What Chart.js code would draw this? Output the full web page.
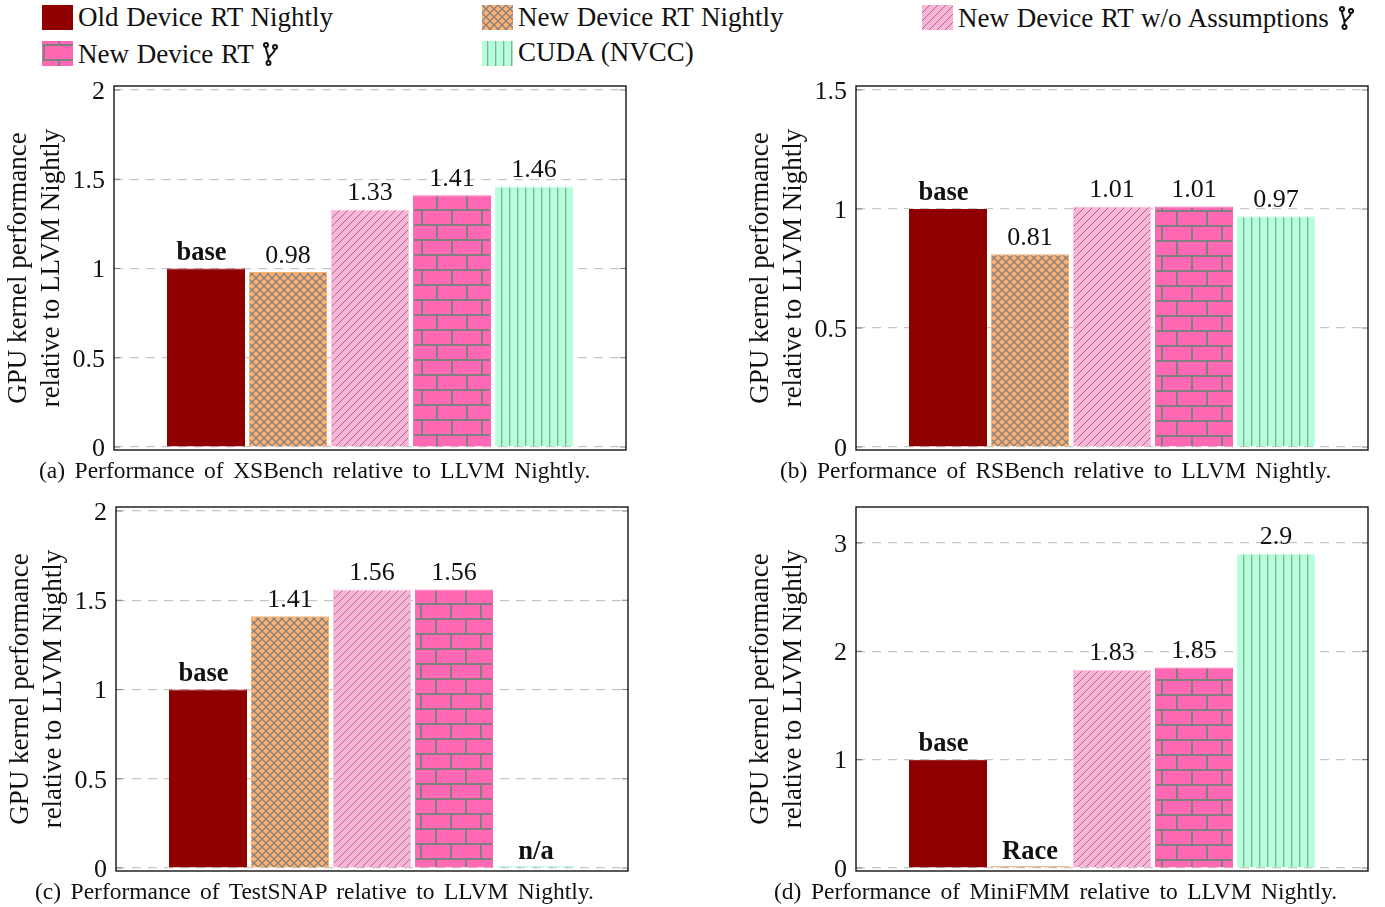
<!DOCTYPE html>
<html><head><meta charset="utf-8">
<style>
html,body{margin:0;padding:0;background:#fff;width:1385px;height:907px;overflow:hidden}
canvas.chart{position:absolute}
.t{position:absolute;font-family:"Liberation Serif",serif;color:#111;white-space:nowrap;line-height:30px}
.leg{font-size:27px;word-spacing:1px}
.cap{font-size:23.5px;word-spacing:3.6px}
.sw{position:absolute;width:31px;height:25px}
.fork{display:inline-block;vertical-align:-3px;margin-left:2px}
</style>
<script src="https://cdn.jsdelivr.net/npm/chart.js@4"></script>
</head><body>
<div id="page"></div>
<script>
// ---- data ----
const benchmarks = ['XSBench','RSBench','TestSNAP','MiniFMM'];
const seriesNames = ['Old Device RT Nightly','New Device RT Nightly','New Device RT w/o Assumptions','New Device RT','CUDA (NVCC)'];
const oldRT    = [1, 1, 1, 1];
const newRT    = [0.98, 0.81, 1.41, 0.01];
const noAssume = [1.33, 1.01, 1.56, 1.83];
const newBranch= [1.41, 1.01, 1.56, 1.85];
const cuda     = [1.46, 0.97, 0.01, 2.9];
const oldLabels    = ['base','base','base','base'];
const newLabels    = ['0.98','0.81','1.41','Race'];
const noAssumeLabels = ['1.33','1.01','1.56','1.83'];
const branchLabels = ['1.41','1.01','1.56','1.85'];
const cudaLabels   = ['1.46','0.97','n/a','2.9'];
const tickSetA = [0,0.5,1,1.5,2];
const tickSetB = [0,0.5,1,1.5];
const tickSetD = [0,1,2,3];
const yTicks = [tickSetA, tickSetB, tickSetA, tickSetD];
const yMin = [-0.0168,-0.0126,-0.0168,-0.0277];
const yMax = [2.0224,1.5168,2.0224,3.332];
const axisTitle = ['GPU kernel performance','relative to LLVM Nightly'];

// ---- layout ----
const panels = [
 {left:0,  top:70, brick:[436,195]},
 {left:742,top:70, brick:[1176,211]},
 {left:2,  top:491,brick:[435,589]},
 {left:742,top:491,brick:[1176,785]}
];
const captions = [
 ['(a) Performance of XSBench relative to LLVM Nightly.',39,454.5],
 ['(b) Performance of RSBench relative to LLVM Nightly.',780,454.5],
 ['(c) Performance of TestSNAP relative to LLVM Nightly.',35,875.5],
 ['(d) Performance of MiniFMM relative to LLVM Nightly.',774,875.5]
];
const GRAY='#808080';
const colors={red:'#8f0000',orange:'#ffb172',pink:'#ffb3d9',hot:'#ff69b4',aqua:'#b3ffda'};

function tile(w,h,bg,draw){
  const c=document.createElement('canvas');c.width=w;c.height=h;
  const x=c.getContext('2d');x.fillStyle=bg;x.fillRect(0,0,w,h);
  x.strokeStyle=GRAY;x.fillStyle=GRAY;draw(x);return c;
}
const tiles={
 cross:tile(8,8,colors.orange,x=>{x.lineWidth=1.25;x.beginPath();
   x.moveTo(0,0);x.lineTo(8,8);x.moveTo(8,0);x.lineTo(0,8);x.stroke();}),
 hatch:tile(8,8,colors.pink,x=>{x.lineWidth=1;x.beginPath();
   x.moveTo(-1,9);x.lineTo(9,-1);x.moveTo(-1,1);x.lineTo(1,-1);x.moveTo(7,9);x.lineTo(9,7);x.stroke();}),
 brick:tile(30,30,colors.hot,x=>{
   x.fillRect(0,14,30,2);x.fillRect(0,29,30,1);x.fillRect(0,0,30,1);
   x.fillRect(0,0,2,15);x.fillRect(15,15,2,15);}),
 vline:tile(8,8,colors.aqua,x=>{x.fillStyle='#8fa89b';x.fillRect(5,0,1.3,8);})
};
function pat(ctx,t,dx,dy){
  const p=ctx.createPattern(t,'repeat');
  p.setTransform(new DOMMatrix().translate(dx,dy));return p;
}

// ---- charts ----
const barBorders=[colors.red,colors.orange,'#ffc4e0',colors.hot,'#c4ffe3'];
const inkPlugin={
  id:'ink',
  beforeDatasetsDraw(c){
    const g=c.ctx,a=c.chartArea,s=c.scales.y;
    g.save();g.strokeStyle=GRAY;g.lineWidth=1.2;
    s.ticks.forEach(t=>{const y=s.getPixelForValue(t.value);
      g.beginPath();g.moveTo(a.left,y);g.lineTo(a.left+6,y);g.moveTo(a.right-6,y);g.lineTo(a.right,y);g.stroke();});
    g.restore();
  },
  afterDatasetsDraw(c,args,o){
    const g=c.ctx,a=c.chartArea;
    g.save();g.strokeStyle='#000';g.lineWidth=1.3;g.strokeRect(a.left,a.top,a.right-a.left,a.bottom-a.top);
    g.textAlign='center';g.textBaseline='alphabetic';g.fillStyle='#111';
    c.data.datasets.forEach((d,i)=>{
      const el=c.getDatasetMeta(i).data[0],txt=d.valueText;
      const bold=isNaN(parseFloat(txt));
      g.font=(bold?'bold 26.5px':'26px')+' "Liberation Serif"';
      const gap=txt==='base'?8.5:bold?7:9.5;
      g.fillText(txt,el.x-(txt==='base'?4.5:0),el.y-gap);
    });
    g.restore();
  }
};
const page=document.getElementById('page');
panels.forEach((p,i)=>{
  const cv=document.createElement('canvas');cv.className='chart';
  cv.width=640;cv.height=395;cv.style.left=p.left+'px';cv.style.top=p.top+'px';
  cv.style.width='640px';cv.style.height='395px';
  page.appendChild(cv);
  const ctx=cv.getContext('2d');
  const fills=[colors.red,
    pat(ctx,tiles.cross,0,0),pat(ctx,tiles.hatch,0,0),
    pat(ctx,tiles.brick,p.brick[0]-p.left,p.brick[1]-p.top),pat(ctx,tiles.vline,0,0)];
  const vals=[oldRT,newRT,noAssume,newBranch,cuda];
  const txt=[oldLabels,newLabels,noAssumeLabels,branchLabels,cudaLabels];
  new Chart(ctx,{
    type:'bar',
    data:{labels:[benchmarks[i]],datasets:seriesNames.map((n,k)=>({
      label:n,data:[vals[k][i]],valueText:txt[k][i],backgroundColor:fills[k],
      borderColor:barBorders[k],borderWidth:1,borderSkipped:'bottom',minBarLength:2,
      categoryPercentage:410/512,barPercentage:78/82}))},
    options:{
      responsive:false,animation:false,devicePixelRatio:1,
      layout:{autoPadding:false,padding:{left:0,right:14,top:16,bottom:15}},
      plugins:{legend:{display:false},tooltip:{enabled:false}},
      scales:{
        x:{display:false},
        y:{min:yMin[i],max:yMax[i],
           afterBuildTicks:s=>{s.ticks=yTicks[i].map(v=>({value:v}));},
           afterFit:s=>{s.width=114;s.paddingTop=0;s.paddingBottom=0;},
           border:{display:false,dash:[9,7]},
           grid:{color:'#c6c6c6',lineWidth:1.2,drawTicks:false},
           ticks:{padding:9,labelOffset:2,color:'#111',font:{family:'"Liberation Serif"',size:26},
             callback:v=>String(v)},
           title:{display:true,text:axisTitle,color:'#111',padding:{top:2,bottom:0},
             font:{family:'"Liberation Serif"',size:27,lineHeight:1.22}}
        }
      }
    },
    plugins:[inkPlugin]
  });
});

// ---- legend and captions ----
const forkSvg='<svg class="fork" width="15" height="24" viewBox="0 0 15 24" fill="none" stroke="#111" stroke-width="2">'+
 '<circle cx="3" cy="3" r="2"/><circle cx="12" cy="5" r="2"/><circle cx="5.5" cy="21" r="2"/>'+
 '<path d="M3 5 C3 11 6 11 5.5 19 M12 7 C11.5 12 7 12 5.8 16"/></svg>';
const legend=[
 [seriesNames[0],42,5,null,78,2,false,colors.red],
 [seriesNames[1],482,5,'cross',518,2,false],
 [seriesNames[2],922,5,'hatch',958,3,true],
 [seriesNames[3],42,41,'brick',78,39,true],
 [seriesNames[4],482,41,'vline',518,37,false]
];
legend.forEach(l=>{
  const sw=document.createElement('div');sw.className='sw';sw.style.left=l[1]+'px';sw.style.top=l[2]+'px';
  if(l[3]){sw.style.backgroundImage='url('+tiles[l[3]].toDataURL()+')';
    if(l[3]==='brick')sw.style.backgroundPosition='1px 4px';}
  else sw.style.background=l[7];
  page.appendChild(sw);
  const t=document.createElement('div');t.className='t leg';t.style.left=l[4]+'px';t.style.top=l[5]+'px';
  t.innerHTML=l[0]+(l[6]?' '+forkSvg:'');
  page.appendChild(t);
});
captions.forEach(c=>{
  const t=document.createElement('div');t.className='t cap';t.textContent=c[0];
  t.style.left=c[1]+'px';t.style.top=c[2]+'px';page.appendChild(t);
});
</script>
</body></html>
